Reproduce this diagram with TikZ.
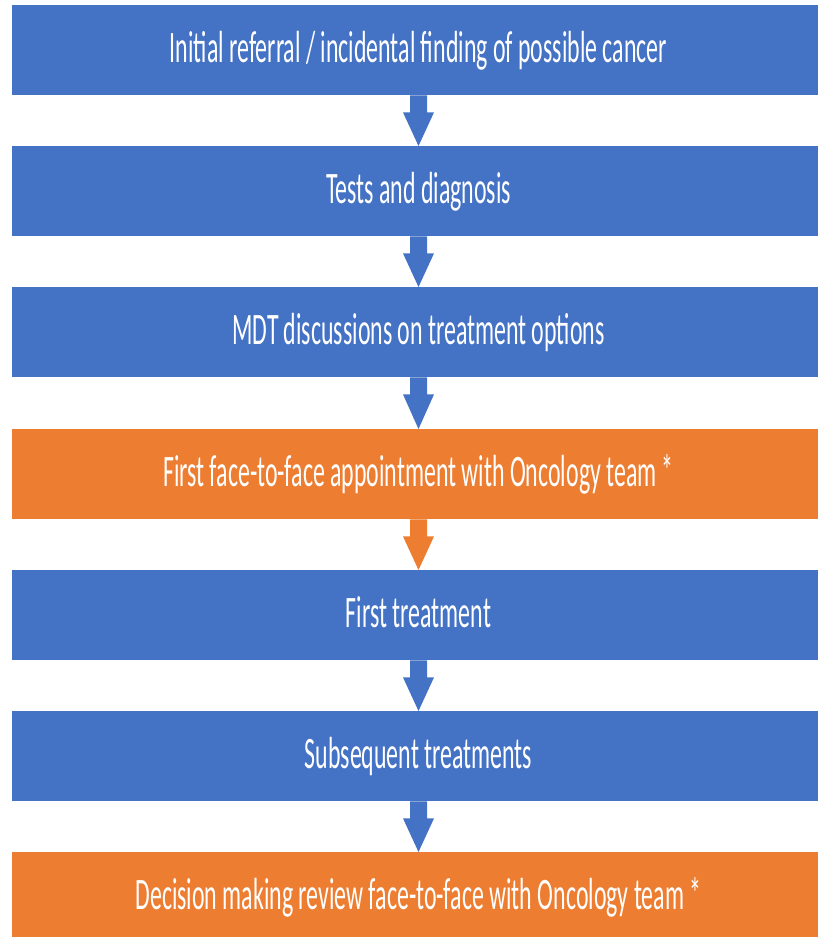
\documentclass[tikz,border=0pt]{standalone}
\usepackage{fontspec}
\setmainfont{Carlito}[FakeStretch=0.53]
\usetikzlibrary{calc}
\definecolor{offblue}{HTML}{4472C4}
\definecolor{offorange}{HTML}{ED7D31}
\tikzset{
  stagebox/.style={fill=#1, draw=none, minimum width=806pt, minimum height=90pt,
    inner sep=0pt, text=white, font=\fontsize{45}{54}\selectfont, anchor=north,
    text height=32pt, text depth=8pt, execute at begin node={\hspace*{7pt}}},
}
\newcommand{\flowarrow}[3]{%
  \fill[#3] ($(#1.south)+(-5pt,0)$) -- ($(#1.south)+(-5pt,-17pt)$)
    -- ($(#1.south)+(-12pt,-17pt)$) -- ($(#2.north)+(3.5pt,0)$)
    -- ($(#1.south)+(19pt,-17pt)$) -- ($(#1.south)+(12pt,-17pt)$)
    -- ($(#1.south)+(12pt,0)$) -- cycle;}
\begin{document}
\begin{tikzpicture}[x=1pt,y=1pt]
\useasboundingbox (0,0) rectangle (821,-937);
\node[stagebox=offblue] (s1) at (415,-5) {Initial referral / incidental finding of possible cancer};
\node[stagebox=offblue] (s2) at (415,-146) {Tests and diagnosis};
\node[stagebox=offblue] (s3) at (415,-287) {MDT discussions on treatment options};
\node[stagebox=offorange] (s4) at (415,-429) {First face-to-face appointment with Oncology team *};
\node[stagebox=offblue] (s5) at (415,-570) {First treatment};
\node[stagebox=offblue] (s6) at (415,-711) {Subsequent treatments};
\node[stagebox=offorange] (s7) at (415,-852) {Decision making review face-to-face with Oncology team *};
\flowarrow{s1}{s2}{offblue}
\flowarrow{s2}{s3}{offblue}
\flowarrow{s3}{s4}{offblue}
\flowarrow{s4}{s5}{offorange}
\flowarrow{s5}{s6}{offblue}
\flowarrow{s6}{s7}{offblue}
\end{tikzpicture}
\end{document}
